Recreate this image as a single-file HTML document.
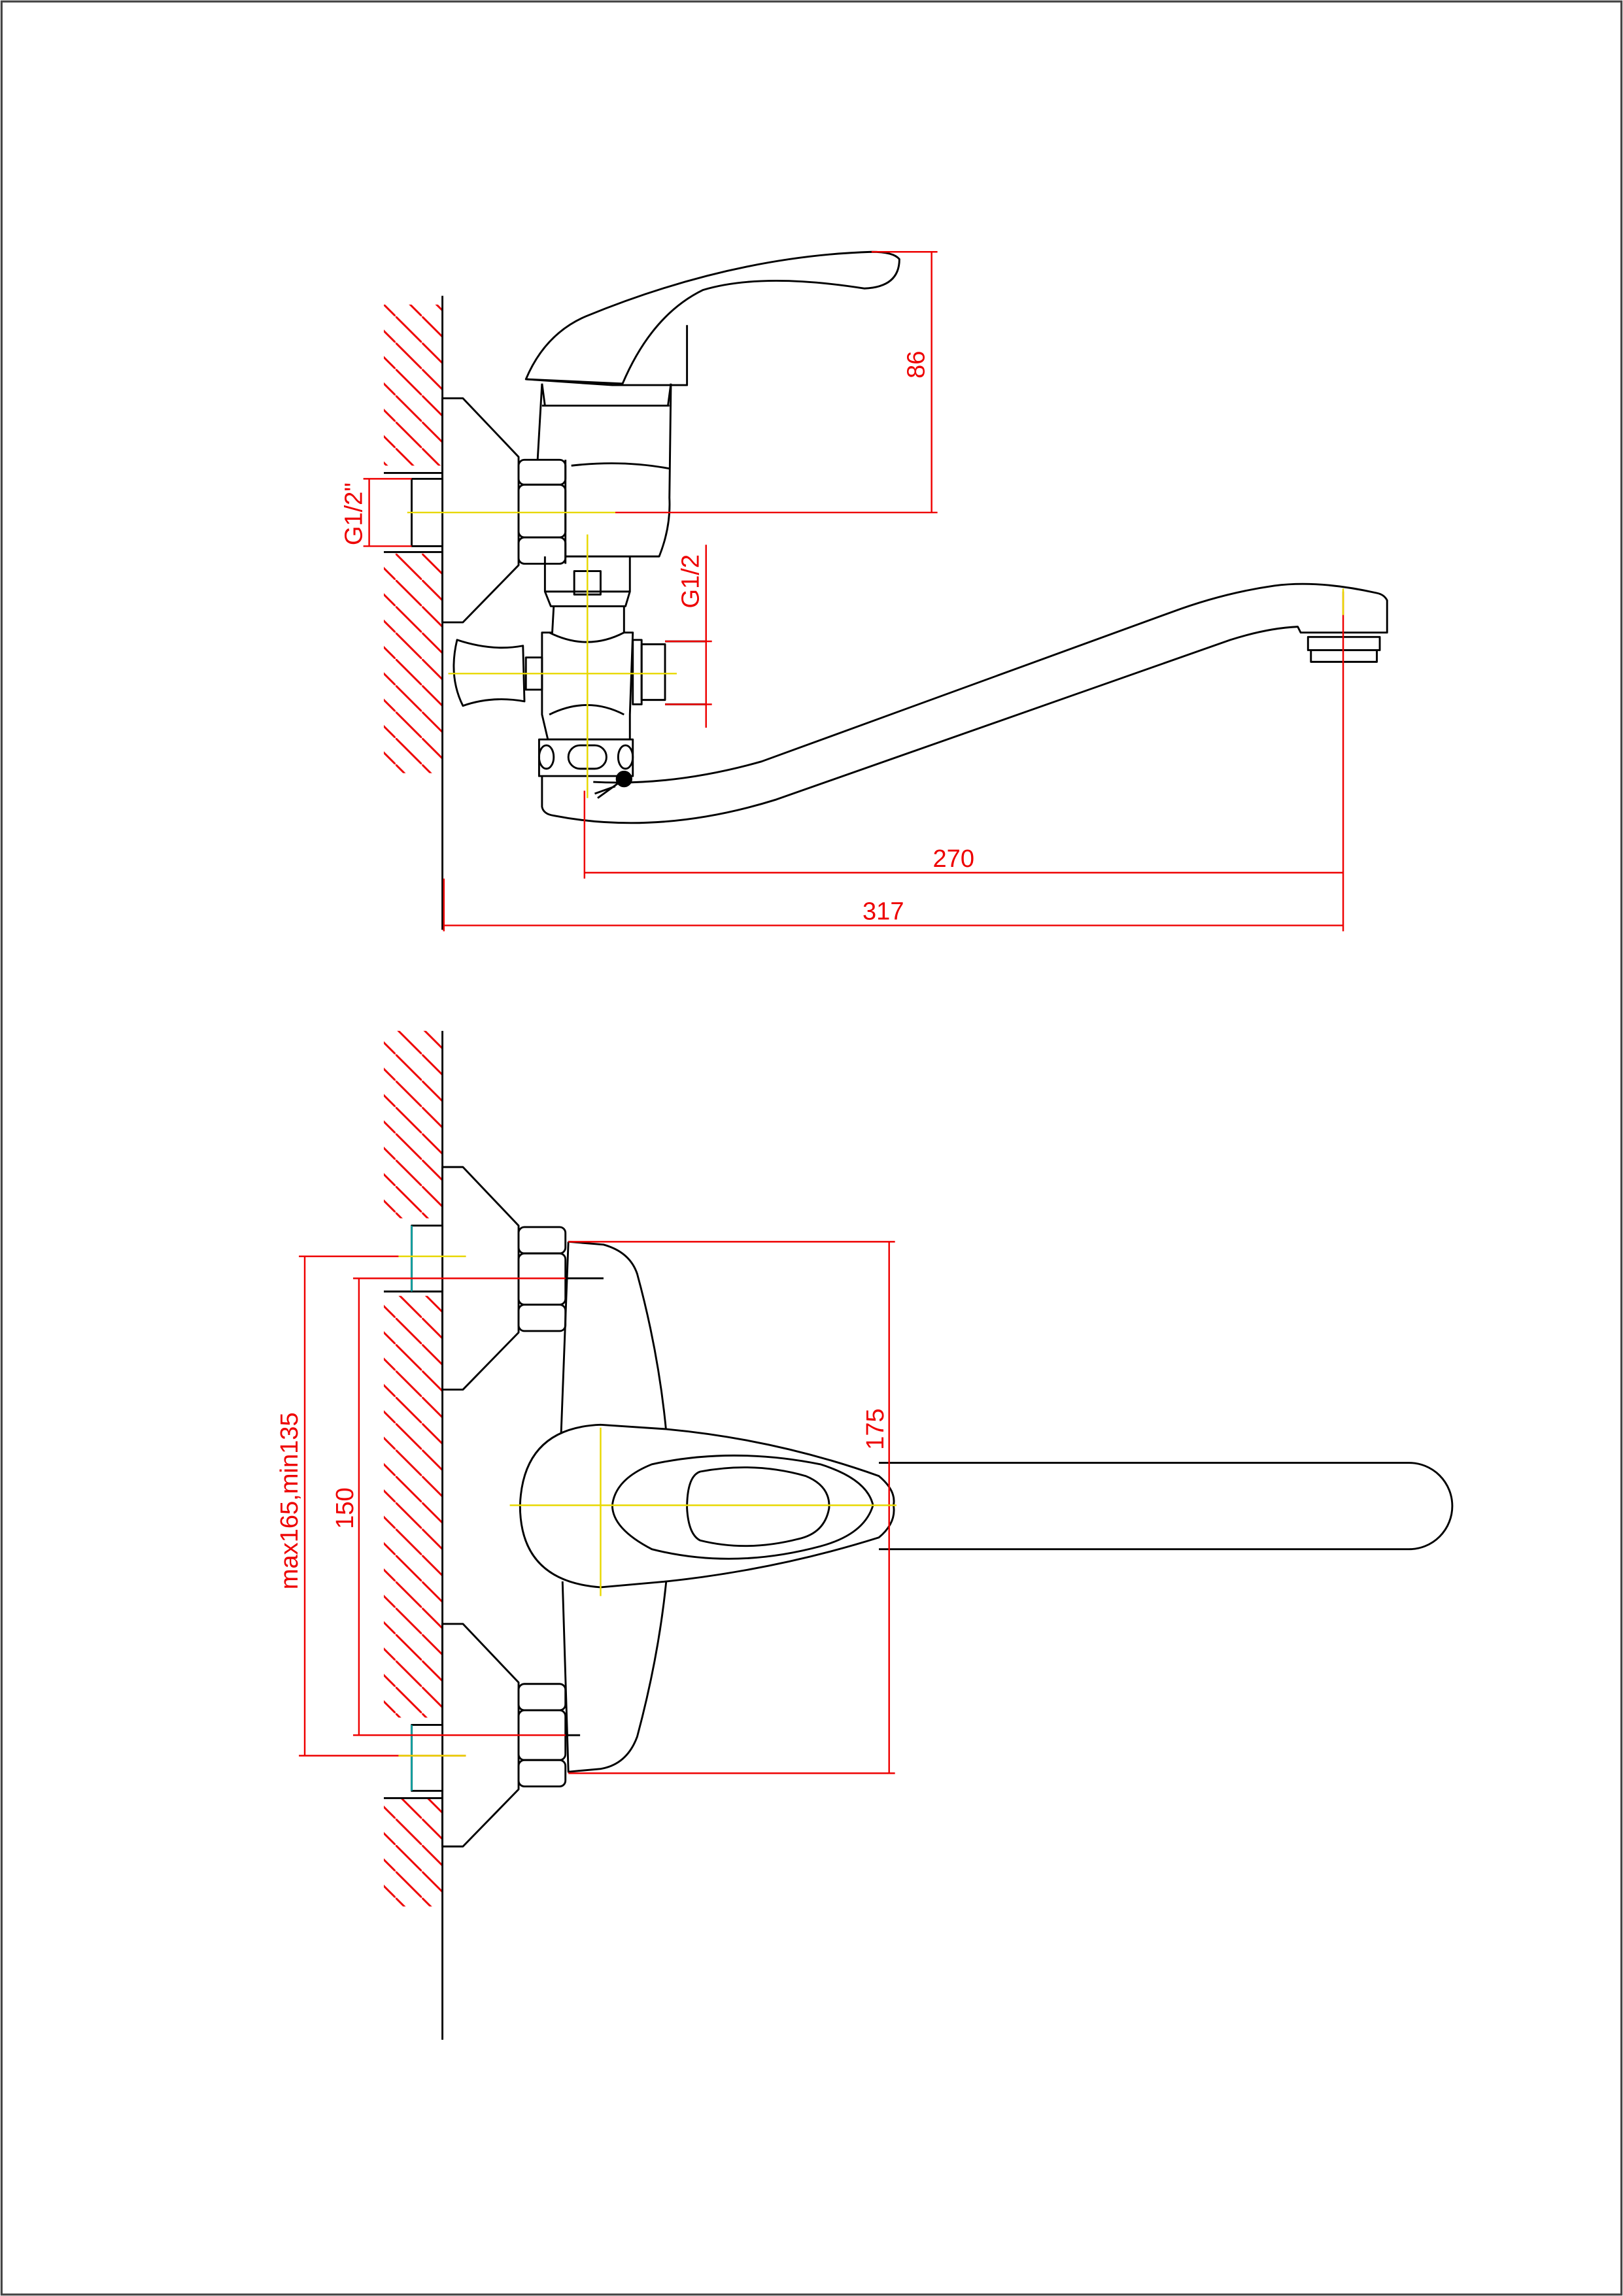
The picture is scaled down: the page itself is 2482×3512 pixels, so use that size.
<!DOCTYPE html>
<html><head><meta charset="utf-8"><style>html,body{margin:0;padding:0;background:#fff}svg{display:block}</style></head>
<body>
<svg width="2482" height="3512" viewBox="0 0 1108 1568" xmlns="http://www.w3.org/2000/svg">
<defs>
<pattern id="h" patternUnits="userSpaceOnUse" width="18" height="18">
<line x1="-2" y1="-2" x2="20" y2="20" stroke="#e00" stroke-width="1.3"/>
</pattern>
</defs>
<rect x="1" y="1" width="1106" height="1566" fill="#fff" stroke="#444" stroke-width="1.4"/>
<rect x="262" y="208" width="40" height="110" fill="url(#h)"/>
<rect x="262" y="378" width="40" height="150" fill="url(#h)"/>
<rect x="262" y="704" width="40" height="128" fill="url(#h)"/>
<rect x="262" y="885" width="40" height="288" fill="url(#h)"/>
<rect x="262" y="1228" width="40" height="74" fill="url(#h)"/>
<g fill="none" stroke="#000" stroke-width="1.3" stroke-linejoin="round">
<line x1="302" y1="202" x2="302" y2="635"/>
<polygon points="302,272 316,272 354,312 354,386 316,425 302,425" fill="#fff"/>
<rect x="281" y="327" width="21" height="46" fill="#fff"/>
<line x1="262" y1="323" x2="302" y2="323"/><line x1="262" y1="377" x2="302" y2="377"/>
<rect x="354" y="314" width="32" height="17" rx="4" fill="#fff"/>
<rect x="354" y="331" width="32" height="36" rx="4" fill="#fff"/>
<rect x="354" y="367" width="32" height="18" rx="4" fill="#fff"/>
<line x1="386" y1="314" x2="386" y2="385"/>
<path d="M370,262 L367,314 M458,262 L457,340 Q458,360 450,380 L386,380"/>
<path d="M370,277 L457,277 M390,318 Q425,314 457,320"/>
<path d="M370,262 L372,277 M458,262 L456,277"/>
<path d="M359,259 Q372,228 400,216 Q500,175 595,172 Q610,172 614,177 Q614,196 590,197 Q520,186 480,198 Q445,215 425,262 Z" fill="#fff"/>
<path d="M359,259 L418,263 L469,263 L469,222"/>
<path d="M372,380 L372,404 L430,404 L430,380 M392,390 L410,390 L410,406 L392,406 Z"/>
<path d="M372,404 L376,414 L427,414 L430,404"/>
<path d="M378,414 L377,432 L370,432 L370,488 L374,505 L430,505 L430,488 L432,432 L426,432 L426,414"/>
<path d="M375,432 Q401,445 426,432 M375,488 Q401,475 426,488"/>
<rect x="359" y="449" width="11" height="22"/>
<path d="M312,437 Q336,445 357,441 L358,479 Q336,475 316,482 Q306,462 312,437 Z"/>
<rect x="432" y="437" width="6" height="44"/><rect x="438" y="440" width="16" height="38"/>
<line x1="454" y1="438" x2="482" y2="438"/><line x1="454" y1="481" x2="482" y2="481"/>
<path d="M368,505 L368,530 L432,530 L432,505 Z"/>
<ellipse cx="373" cy="517" rx="5" ry="8"/><ellipse cx="427" cy="517" rx="5" ry="8"/>
<rect x="388" y="509" width="26" height="16" rx="8"/>
<path d="M370,530 L370,551 Q371,556 378,557 Q450,571 530,546 L840,437 Q865,429 886,428 L888,432 L947,432 L947,410 Q945,406 940,405 Q900,396 870,400 Q835,405 800,418 L520,520 Q460,537 405,534"/>
<rect x="893" y="435" width="49" height="9"/><rect x="895" y="444" width="45" height="8"/>
<circle cx="426" cy="532" r="5" fill="#000"/><path d="M426,532 L408,545 M420,537 L406,542"/>
<line x1="302" y1="704" x2="302" y2="1393"/>
<polygon points="302,797 316,797 354,837 354,910 316,949 302,949" fill="#fff"/>
<polygon points="302,1109 316,1109 354,1149 354,1222 316,1261 302,1261" fill="#fff"/>
<rect x="281" y="837" width="21" height="45" fill="#fff"/>
<rect x="281" y="1178" width="21" height="45" fill="#fff"/>
<line x1="262" y1="882" x2="302" y2="882"/><line x1="262" y1="1228" x2="302" y2="1228"/>
<rect x="354" y="838" width="32" height="18" rx="4" fill="#fff"/>
<rect x="354" y="856" width="32" height="35" rx="4" fill="#fff"/>
<rect x="354" y="891" width="32" height="18" rx="4" fill="#fff"/>
<rect x="354" y="1150" width="32" height="18" rx="4" fill="#fff"/>
<rect x="354" y="1168" width="32" height="34" rx="4" fill="#fff"/>
<rect x="354" y="1202" width="32" height="18" rx="4" fill="#fff"/>
<line x1="386" y1="873" x2="412" y2="873"/><line x1="386" y1="1185" x2="396" y2="1185"/>
<path d="M388,848 L412,850 Q430,855 435,870 Q450,925 455,980"/>
<path d="M388,848 L383,980 M384,1080 L388,1210 L410,1208 Q428,1205 435,1186 Q450,1130 455,1078"/>
<path d="M410,973 L455,976 Q530,983 600,1008 Q612,1018 610,1028 Q612,1040 600,1050 Q530,1072 455,1080 L410,1084 Q355,1080 355,1028 Q357,975 410,973 Z" fill="#fff"/>
<path d="M600,999 L962,999 A29,29 0 0 1 962,1058 L600,1058"/>
<path d="M445,1000 Q500,988 560,1000 Q592,1010 596,1028 Q590,1048 560,1056 Q500,1072 445,1058 Q418,1044 418,1028 Q420,1010 445,1000 Z"/>
<path d="M478,1005 Q515,998 550,1008 Q567,1015 566,1030 Q563,1047 545,1051 Q510,1060 478,1052 Q470,1048 469,1030 Q469,1008 478,1005 Z"/>
</g>
<path d="M281,837 L281,882 M281,1178 L281,1223" stroke="#0bb" stroke-width="1"/>
<g stroke="#e00" stroke-width="1.1" fill="none">
<path d="M595,172 L640,172 M420,350 L640,350 M636,172 L636,350"/>
<path d="M248,327 L281,327 M248,373 L281,373 M252,327 L252,373"/>
<path d="M454,438 L486,438 M454,481 L486,481 M482,372 L482,497"/>
<path d="M399,540 L399,600 M917,404 L917,636 M303,600 L303,636 M399,596 L917,596 M303,632 L917,632"/>
<path d="M388,848 L611,848 M388,1211 L611,1211 M607,848 L607,1211"/>
<path d="M241,873 L386,873 M241,1185 L386,1185 M245,873 L245,1185"/>
<path d="M204,858 L318,858 M204,1199 L318,1199 M208,858 L208,1199"/>
</g>
<g stroke="#e8d800" stroke-width="1.1">
<path d="M278,350 L420,350 M401,365 L401,545 M306,460 L462,460 M917,402 L917,420"/>
<path d="M348,1028 L612,1028 M410,975 L410,1090 M272,858 L318,858 M272,1199 L318,1199"/>
</g>
<g fill="#e00" font-family="Liberation Sans, sans-serif" font-size="17">
<text x="651" y="592" text-anchor="middle">270</text>
<text x="603" y="628" text-anchor="middle">317</text>
<text transform="translate(631,249) rotate(-90)" text-anchor="middle">86</text>
<text transform="translate(247,351) rotate(-90)" text-anchor="middle">G1/2"</text>
<text transform="translate(477,397) rotate(-90)" text-anchor="middle">G1/2</text>
<text transform="translate(603,976) rotate(-90)" text-anchor="middle">175</text>
<text transform="translate(241,1030) rotate(-90)" text-anchor="middle">150</text>
<text transform="translate(203,1025) rotate(-90)" text-anchor="middle">max165,min135</text>
</g>
</svg>
</body></html>
